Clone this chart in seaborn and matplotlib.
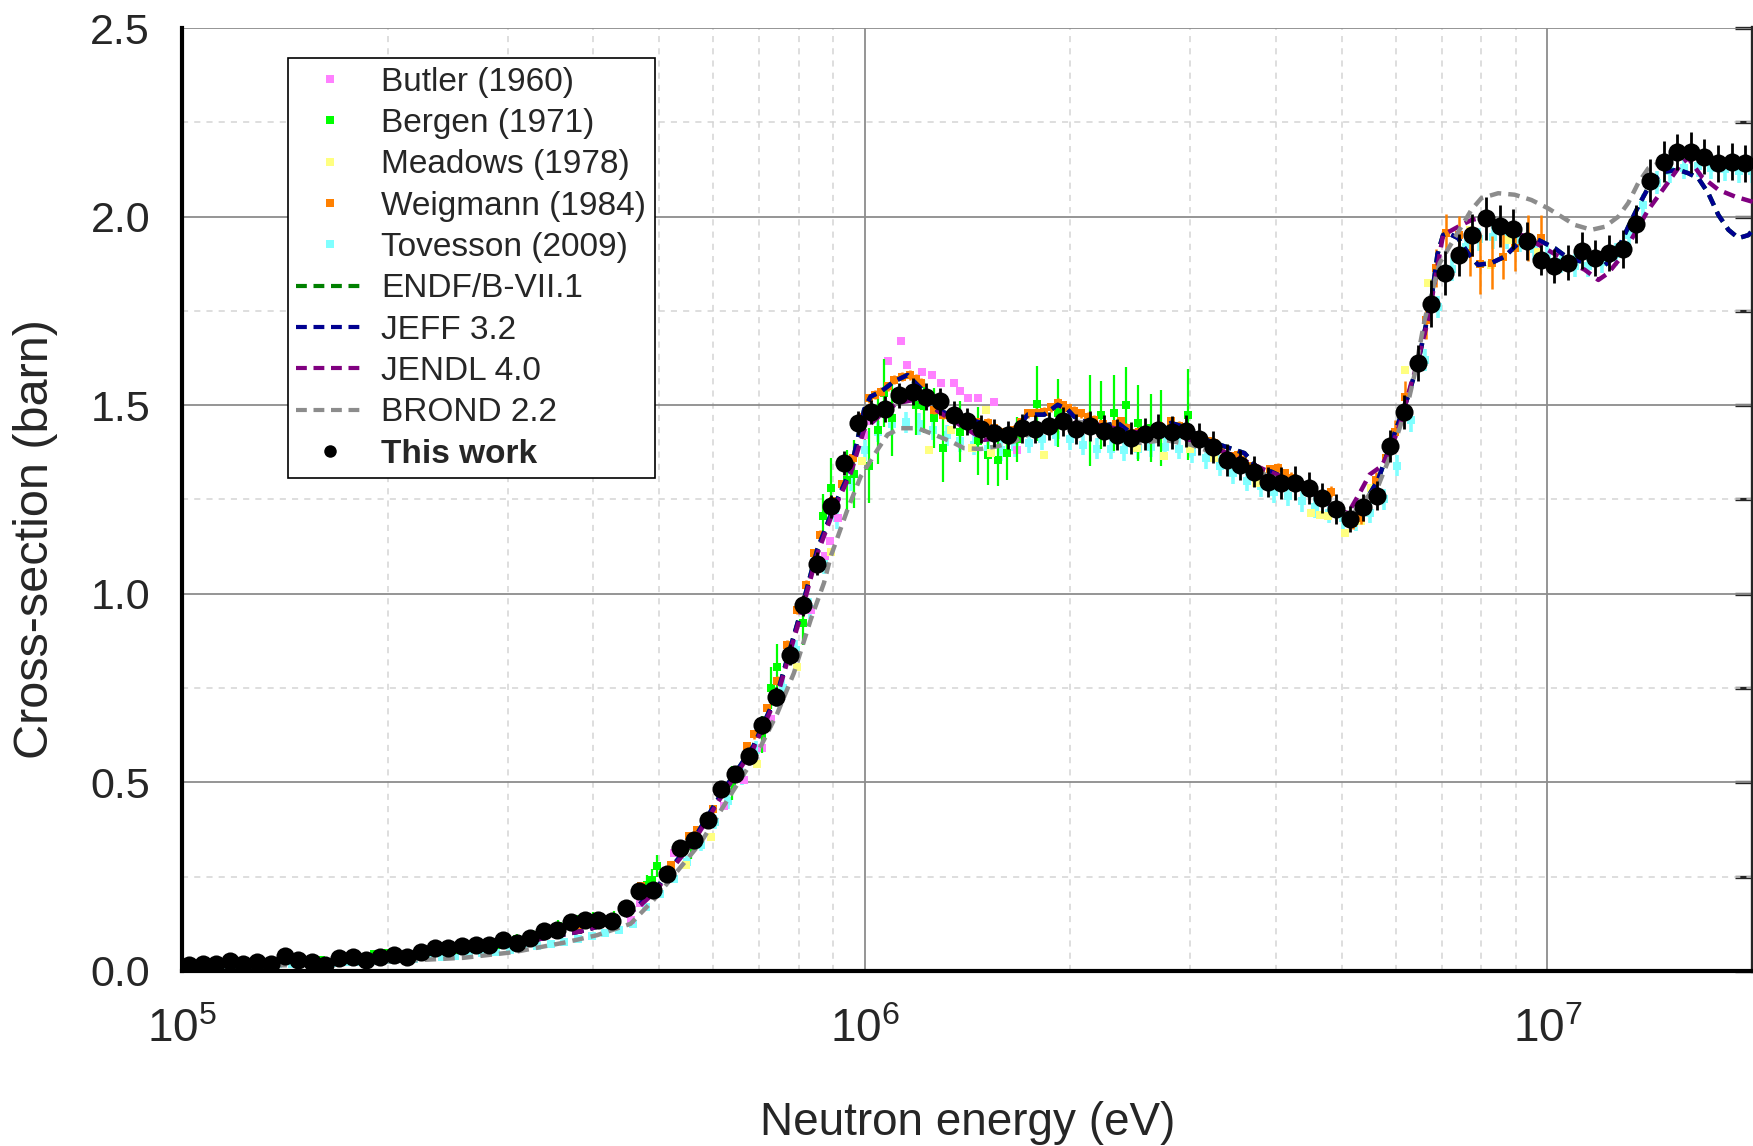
import numpy as np
import matplotlib
matplotlib.use("Agg")
import matplotlib.pyplot as plt
import seaborn as sns
from matplotlib.lines import Line2D
from matplotlib.ticker import LogLocator, MultipleLocator, FormatStrFormatter, NullFormatter

# ---------------- data (energies in keV, cross-sections in barn) ----------------
# This work
work_e = [102.3, 107.2, 112.2, 117.5, 123.0, 128.8, 134.9, 141.3, 147.9, 154.9,
          162.2, 169.8, 177.8, 186.2, 195.0, 204.2, 213.8, 223.9, 234.4, 245.5,
          257.0, 269.2, 281.8, 295.1, 309.0, 323.6, 338.8, 354.8, 371.5, 389.0,
          407.4, 426.6, 446.7, 467.7, 489.8, 512.9, 537.0, 562.3, 588.8, 616.6,
          645.7, 676.1, 707.9, 741.3, 776.2, 812.8, 851.1, 891.3, 933.3, 977.2,
          1023, 1072, 1122, 1175, 1230, 1288, 1349, 1413, 1479, 1549,
          1622, 1698, 1778, 1862, 1950, 2042, 2138, 2239, 2344, 2455,
          2570, 2692, 2818, 2951, 3090, 3236, 3388, 3548, 3715, 3890,
          4074, 4266, 4467, 4677, 4898, 5129, 5370, 5623, 5888, 6166,
          6457, 6761, 7079, 7413, 7762, 8128, 8511, 8913, 9333, 9772,
          10233, 10715, 11220, 11749, 12303, 12882, 13490, 14125, 14791, 15488,
          16218, 16982, 17783, 18621, 19498]
work_sigma = [0.015, 0.019, 0.019, 0.026, 0.019, 0.023, 0.019, 0.039, 0.030, 0.023,
              0.017, 0.035, 0.037, 0.028, 0.037, 0.042, 0.037, 0.051, 0.061, 0.061,
              0.066, 0.070, 0.070, 0.083, 0.075, 0.088, 0.105, 0.110, 0.129, 0.134,
              0.134, 0.132, 0.166, 0.211, 0.214, 0.256, 0.326, 0.348, 0.400, 0.483,
              0.523, 0.569, 0.653, 0.727, 0.839, 0.969, 1.080, 1.232, 1.347, 1.453,
              1.482, 1.490, 1.526, 1.536, 1.523, 1.510, 1.475, 1.457, 1.437, 1.426,
              1.422, 1.439, 1.437, 1.445, 1.457, 1.437, 1.444, 1.432, 1.422, 1.413,
              1.424, 1.435, 1.428, 1.432, 1.411, 1.389, 1.355, 1.342, 1.324, 1.297,
              1.294, 1.294, 1.280, 1.255, 1.225, 1.198, 1.229, 1.260, 1.391, 1.481,
              1.611, 1.769, 1.850, 1.898, 1.952, 1.996, 1.975, 1.967, 1.936, 1.885,
              1.869, 1.878, 1.909, 1.890, 1.903, 1.914, 1.981, 2.095, 2.146, 2.172,
              2.170, 2.159, 2.141, 2.146, 2.141]
work_err = [0.006, 0.006, 0.006, 0.006, 0.006, 0.006, 0.006, 0.006, 0.006, 0.006,
            0.006, 0.007, 0.007, 0.007, 0.008, 0.008, 0.008, 0.008, 0.009, 0.009,
            0.009, 0.010, 0.010, 0.010, 0.011, 0.011, 0.012, 0.012, 0.013, 0.013,
            0.013, 0.013, 0.014, 0.015, 0.015, 0.016, 0.017, 0.018, 0.019, 0.020,
            0.021, 0.022, 0.024, 0.025, 0.027, 0.028, 0.030, 0.030, 0.032, 0.032,
            0.033, 0.034, 0.034, 0.035, 0.035, 0.036, 0.036, 0.036, 0.037, 0.037,
            0.037, 0.038, 0.038, 0.038, 0.039, 0.040, 0.040, 0.041, 0.041, 0.042,
            0.042, 0.042, 0.043, 0.043, 0.043, 0.042, 0.042, 0.040, 0.040, 0.040,
            0.042, 0.045, 0.043, 0.040, 0.040, 0.035, 0.035, 0.038, 0.042, 0.045,
            0.048, 0.062, 0.058, 0.055, 0.056, 0.057, 0.055, 0.053, 0.050, 0.040,
            0.044, 0.046, 0.049, 0.048, 0.048, 0.050, 0.050, 0.057, 0.055, 0.048,
            0.055, 0.047, 0.050, 0.050, 0.048]

# Tovesson (2009)
tov_e = [100, 105, 110, 115, 120, 126, 132, 138, 145, 151,
         158, 166, 174, 182, 191, 200, 209, 219, 229, 240,
         251, 263, 275, 288, 302, 316, 331, 347, 363, 380,
         398, 417, 437, 457, 479, 501, 525, 550, 575, 603,
         631, 661, 692, 724, 759, 794, 832, 871, 912, 955,
         1000, 1047, 1096, 1148, 1202, 1259, 1318, 1380, 1445, 1514,
         1585, 1660, 1738, 1820, 1905, 1995, 2089, 2188, 2291, 2399,
         2512, 2630, 2754, 2884, 3020, 3162, 3311, 3467, 3631, 3802,
         3981, 4169, 4365, 4571, 4786, 5012, 5248, 5495, 5754, 6026,
         6310, 6607, 6918, 7244, 7586, 7943, 8318, 8710, 9120, 9550,
         10000, 10471, 10965, 11482, 12023, 12589, 13183, 13804, 14454, 15136,
         15849, 16596, 17378, 18197, 19055, 19953]
tov_sigma = [0.012, 0.013, 0.014, 0.015, 0.015, 0.016, 0.017, 0.018, 0.019, 0.020,
             0.021, 0.022, 0.024, 0.025, 0.027, 0.029, 0.031, 0.033, 0.036, 0.038,
             0.041, 0.044, 0.047, 0.051, 0.055, 0.060, 0.065, 0.071, 0.078, 0.086,
             0.094, 0.102, 0.110, 0.125, 0.170, 0.205, 0.245, 0.290, 0.335, 0.395,
             0.450, 0.515, 0.585, 0.660, 0.750, 0.850, 0.960, 1.080, 1.200, 1.300,
             1.380, 1.430, 1.450, 1.455, 1.450, 1.435, 1.420, 1.405, 1.395, 1.385,
             1.380, 1.390, 1.400, 1.410, 1.420, 1.410, 1.395, 1.385, 1.385, 1.380,
             1.385, 1.390, 1.390, 1.385, 1.375, 1.360, 1.340, 1.320, 1.300, 1.285,
             1.270, 1.260, 1.245, 1.230, 1.215, 1.200, 1.195, 1.215, 1.250, 1.340,
             1.460, 1.620, 1.760, 1.860, 1.920, 1.940, 1.945, 1.945, 1.935, 1.915,
             1.895, 1.880, 1.870, 1.870, 1.880, 1.900, 1.950, 2.030, 2.090, 2.120,
             2.130, 2.135, 2.130, 2.125, 2.120, 2.120]
tov_err = [0.004, 0.004, 0.004, 0.004, 0.004, 0.004, 0.004, 0.004, 0.004, 0.004,
           0.004, 0.004, 0.004, 0.004, 0.004, 0.004, 0.004, 0.004, 0.004, 0.004,
           0.004, 0.004, 0.004, 0.004, 0.004, 0.004, 0.004, 0.004, 0.004, 0.004,
           0.005, 0.005, 0.006, 0.007, 0.009, 0.010, 0.012, 0.014, 0.016, 0.018,
           0.020, 0.022, 0.024, 0.025, 0.026, 0.027, 0.028, 0.028, 0.028, 0.028,
           0.028, 0.028, 0.028, 0.028, 0.028, 0.028, 0.028, 0.028, 0.028, 0.028,
           0.028, 0.028, 0.028, 0.028, 0.028, 0.028, 0.028, 0.028, 0.028, 0.028,
           0.028, 0.028, 0.028, 0.028, 0.028, 0.028, 0.028, 0.028, 0.028, 0.028,
           0.028, 0.028, 0.028, 0.028, 0.028, 0.028, 0.028, 0.028, 0.028, 0.028,
           0.030, 0.030, 0.030, 0.030, 0.030, 0.030, 0.030, 0.030, 0.030, 0.030,
           0.030, 0.030, 0.030, 0.030, 0.030, 0.030, 0.030, 0.030, 0.030, 0.030,
           0.030, 0.030, 0.030, 0.030, 0.030, 0.030]

# Butler (1960)
butler_e = [454, 468, 525, 622, 665, 706, 730, 833, 874, 888, 915, 998, 1008,
            1081, 1129, 1155, 1214, 1253, 1292, 1350, 1381, 1418, 1464, 1548, 1669]
butler_sigma = [0.136, 0.180, 0.313, 0.437, 0.507, 0.590, 0.668, 0.958, 1.099, 1.139,
                1.201, 1.420, 1.457, 1.618, 1.669, 1.607, 1.589, 1.579, 1.560, 1.558,
                1.538, 1.519, 1.519, 1.508, 1.380]

# Bergen (1971)
bergen_e = [111, 120, 130, 146, 160, 175, 191, 200, 214, 230, 250, 270, 290, 310, 327,
            356, 380, 400, 430, 480, 488, 496, 557, 640, 708, 728, 745, 813,
            870, 893, 941, 964, 1015, 1045, 1068, 1095, 1187, 1222, 1264, 1302,
            1378, 1466, 1516, 1566, 1618, 1672, 1790, 1918, 2140, 2220, 2314, 2410,
            2514, 2624, 2720, 2970]
bergen_sigma = [0.015, 0.018, 0.020, 0.028, 0.030, 0.035, 0.046, 0.048, 0.044, 0.050,
                0.055, 0.065, 0.070, 0.085, 0.095, 0.120, 0.132, 0.140, 0.140, 0.229,
                0.242, 0.278, 0.331, 0.499, 0.627, 0.750, 0.806, 0.923,
                1.205, 1.280, 1.302, 1.318, 1.340, 1.435, 1.532, 1.466, 1.501, 1.497,
                1.466, 1.386, 1.430, 1.404, 1.369, 1.355, 1.373, 1.410, 1.504, 1.479,
                1.460, 1.475, 1.479, 1.501, 1.453, 1.439, 1.440, 1.475]
bergen_err = [0.006, 0.006, 0.006, 0.007, 0.007, 0.008, 0.008, 0.008, 0.008, 0.009,
              0.010, 0.010, 0.011, 0.012, 0.013, 0.015, 0.016, 0.017, 0.018, 0.025,
              0.028, 0.030, 0.035, 0.045, 0.050, 0.055, 0.060, 0.060,
              0.060, 0.080, 0.080, 0.090, 0.100, 0.090, 0.090, 0.100, 0.080, 0.070,
              0.080, 0.090, 0.080, 0.090, 0.080, 0.070, 0.070, 0.060, 0.100, 0.090,
              0.120, 0.090, 0.100, 0.100, 0.100, 0.090, 0.100, 0.120]

# Meadows (1978)
meadows_e = [548, 595, 696, 795, 892, 990, 1242, 1337, 1434, 1504, 1533, 1832, 2505,
             2748, 2999, 3252, 3741, 4497, 4636, 4766, 5044, 5338, 5520, 6176, 6686,
             7396, 7692, 8278, 8759, 9692]
meadows_sigma = [0.280, 0.355, 0.549, 0.806, 1.110, 1.353, 1.382, 1.433, 1.386, 1.488,
                 1.373, 1.369, 1.386, 1.366, 1.384, 1.360, 1.295, 1.214, 1.210, 1.207,
                 1.161, 1.192, 1.280, 1.594, 1.823, 1.907, 1.965, 1.872, 1.938, 1.907]

# Weigmann (1984)
weig_e = [327, 380, 424, 470, 520, 552, 568, 600, 640, 672, 688, 719, 745, 770, 795,
          821, 843, 860, 900, 927, 960, 990, 1015, 1056, 1104, 1165, 1210, 1264, 1337,
          1418, 1514, 1580, 1656, 1733, 1832, 1917, 1983, 2073, 2167, 2292, 2373, 2455,
          2597, 2810, 2972, 3109, 3252, 3400, 3520, 3643, 3807, 4027, 4216, 4480, 4820,
          5190, 5338, 5617, 5810, 5972, 6176, 6630, 6870, 7110, 7410, 7690, 7960, 8280,
          8620, 8950, 9370, 9800,
          1035, 1080, 1135, 1190, 1237, 1300, 1377, 1466, 1547, 1618, 1694, 1782, 1874,
          1950, 2028, 2120, 2230, 2333, 2414, 2526, 2700, 2890, 3040, 3180, 3326, 3460,
          3580, 3725, 3917, 4120]
weig_sigma = [0.083, 0.110, 0.132, 0.225, 0.280, 0.357, 0.375, 0.430, 0.520, 0.596,
              0.627, 0.697, 0.770, 0.865, 0.958, 1.024, 1.108, 1.157, 1.245, 1.290,
              1.360, 1.470, 1.519, 1.536, 1.567, 1.580, 1.560, 1.488, 1.466, 1.457,
              1.453, 1.430, 1.435, 1.479, 1.483, 1.506, 1.492, 1.479, 1.461, 1.440,
              1.457, 1.426, 1.430, 1.457, 1.430, 1.413, 1.400, 1.364, 1.369, 1.338,
              1.324, 1.333, 1.307, 1.271, 1.271, 1.188, 1.201, 1.302, 1.360, 1.430,
              1.523, 1.726, 1.863, 1.956, 1.951, 1.903, 1.875, 1.878, 1.894, 1.916,
              1.943, 1.943,
              1.528, 1.550, 1.575, 1.570, 1.520, 1.475, 1.460, 1.455, 1.440, 1.430,
              1.455, 1.480, 1.495, 1.500, 1.485, 1.470, 1.450, 1.450, 1.440, 1.430,
              1.445, 1.445, 1.420, 1.405, 1.385, 1.365, 1.355, 1.330, 1.330, 1.320]
weig_err = [0.008, 0.008, 0.008, 0.010, 0.010, 0.010, 0.010, 0.010, 0.012, 0.012,
            0.012, 0.012, 0.012, 0.012, 0.012, 0.012, 0.012, 0.012, 0.012, 0.012,
            0.012, 0.012, 0.012, 0.012, 0.012, 0.012, 0.012, 0.012, 0.012, 0.012,
            0.012, 0.012, 0.012, 0.012, 0.012, 0.012, 0.012, 0.012, 0.012, 0.012,
            0.012, 0.012, 0.012, 0.012, 0.012, 0.012, 0.012, 0.012, 0.012, 0.012,
            0.015, 0.015, 0.015, 0.015, 0.015, 0.015, 0.015, 0.020, 0.025, 0.030,
            0.040, 0.050, 0.050, 0.050, 0.050, 0.060, 0.080, 0.070, 0.060, 0.060,
            0.060, 0.060,
            0.012, 0.012, 0.012, 0.012, 0.012, 0.012, 0.012, 0.012, 0.012, 0.012,
            0.012, 0.012, 0.012, 0.012, 0.012, 0.012, 0.012, 0.012, 0.012, 0.012,
            0.012, 0.012, 0.012, 0.012, 0.012, 0.012, 0.012, 0.012, 0.012, 0.012]

# Evaluations
jeff_e = [100, 130, 170.5, 220, 273.5, 330, 383.4, 420, 448.7, 470, 496.6, 513, 560,
          618, 687, 745, 805, 852, 902, 954, 998, 1020, 1056, 1104, 1155, 1208, 1278,
          1352, 1430, 1514, 1601, 1656, 1733, 1832, 1917, 1983, 2025, 2145, 2218, 2348,
          2455, 2597, 2810, 2972, 3109, 3252, 3479, 3599, 3765, 3938, 4119, 4309, 4508,
          4742, 4960, 5160, 5428, 5647, 5972, 6247, 6461, 6759, 6900, 7031, 7151, 7396,
          7650, 7912, 8278, 8658, 9058, 9370, 9800, 10250, 10720, 11210, 11730, 12070,
          12550, 13130, 13660, 14210, 14860, 15540, 16080, 16630, 17200, 17800, 18410,
          19040, 19700, 20100]
jeff_sigma = [0.013, 0.019, 0.030, 0.045, 0.062, 0.083, 0.105, 0.125, 0.150, 0.180,
              0.220, 0.260, 0.345, 0.473, 0.596, 0.737, 0.949, 1.117, 1.232, 1.329,
              1.488, 1.523, 1.536, 1.563, 1.580, 1.545, 1.488, 1.470, 1.461, 1.448,
              1.422, 1.430, 1.475, 1.475, 1.501, 1.488, 1.470, 1.448, 1.444, 1.453,
              1.426, 1.430, 1.453, 1.439, 1.413, 1.400, 1.382, 1.373, 1.333, 1.324,
              1.307, 1.285, 1.267, 1.262, 1.227, 1.196, 1.249, 1.302, 1.426, 1.523,
              1.612, 1.780, 1.900, 1.951, 1.956, 1.943, 1.903, 1.872, 1.877, 1.894,
              1.929, 1.951, 1.934, 1.916, 1.890, 1.881, 1.881, 1.868, 1.894, 1.973,
              2.036, 2.093, 2.119, 2.124, 2.115, 2.102, 2.062, 2.004, 1.965, 1.943,
              1.951, 1.970]
# ENDF/B-VII.1 coincides with JEFF 3.2 over the whole range (hidden underneath)
endf_e = jeff_e
endf_sigma = jeff_sigma

jendl_e = [100, 130, 170.5, 220, 273.5, 330, 383.4, 420, 448.7, 470, 496.6, 513, 560,
           618, 687, 745, 805, 852, 902, 954, 998, 1056, 1117, 1181, 1242, 1292, 1352,
           1430, 1496, 1565, 1656, 1751, 1853, 1957, 2073, 2194, 2321, 2455, 2597, 2748,
           2906, 3109, 3441, 3851, 4074, 4611, 4904, 5105, 5308, 5489, 5710, 5906, 6108,
           6318, 6385, 6686, 6916, 7031, 7396, 7737, 8185, 8658, 9264, 9909, 10600, 11340,
           11870, 12270, 12840, 13430, 14050, 14860, 15720, 16080, 16820, 17800, 18830,
           19910, 20100]
jendl_sigma = [0.013, 0.019, 0.030, 0.045, 0.062, 0.083, 0.105, 0.125, 0.148, 0.175,
               0.215, 0.255, 0.340, 0.465, 0.590, 0.730, 0.940, 1.105, 1.225, 1.320,
               1.435, 1.475, 1.506, 1.514, 1.501, 1.479, 1.457, 1.430, 1.408, 1.413,
               1.422, 1.435, 1.448, 1.457, 1.453, 1.448, 1.439, 1.430, 1.426, 1.422,
               1.413, 1.400, 1.369, 1.329, 1.311, 1.258, 1.223, 1.214, 1.267, 1.316,
               1.338, 1.386, 1.461, 1.559, 1.585, 1.726, 1.877, 1.951, 1.973, 1.991,
               2.000, 1.973, 1.947, 1.916, 1.885, 1.859, 1.832, 1.850, 1.894, 1.956,
               2.018, 2.079, 2.141, 2.155, 2.106, 2.071, 2.053, 2.040, 2.038]

brond_e = [100, 150, 206.4, 258.5, 306, 362.4, 405.5, 453.8, 491, 575, 643.3, 696.3,
           745, 787.5, 833.3, 871.6, 891.7, 943.3, 986.5, 1044, 1080, 1129, 1195, 1264,
           1337, 1398, 1480, 1565, 1656, 1771, 1873, 1983, 2097, 2218, 2428, 2540, 2748,
           3006, 3252, 3520, 3807, 4611, 5044, 5160, 5338, 5647, 5906, 6247, 6385, 6607,
           6952, 7190, 7478, 7737, 8002, 8469, 8954, 9474, 10020, 10480, 10960, 11600,
           12130, 12700, 13130, 13580, 14050, 14860, 16000, 18000, 20100]
brond_sigma = [0.010, 0.016, 0.026, 0.035, 0.050, 0.075, 0.095, 0.125, 0.189, 0.340,
               0.481, 0.578, 0.684, 0.790, 0.931, 1.029, 1.099, 1.223, 1.311, 1.382,
               1.422, 1.439, 1.439, 1.422, 1.404, 1.386, 1.384, 1.391, 1.404, 1.430,
               1.453, 1.461, 1.453, 1.435, 1.404, 1.400, 1.408, 1.395, 1.373, 1.342,
               1.320, 1.267, 1.214, 1.205, 1.241, 1.285, 1.373, 1.506, 1.580, 1.726,
               1.877, 1.921, 1.973, 2.018, 2.049, 2.062, 2.058, 2.044, 2.022, 2.000,
               1.978, 1.965, 1.973, 2.000, 2.036, 2.089, 2.128, 2.150, 2.160, 2.150,
               2.140]

# ---------------- style ----------------
sns.set_style("white")
plt.rcParams["font.family"] = ["Liberation Sans", "DejaVu Sans"]
plt.rcParams["mathtext.fontset"] = "custom"
plt.rcParams["mathtext.rm"] = "Liberation Sans"
plt.rcParams["mathtext.it"] = "Liberation Sans:italic"
plt.rcParams["mathtext.bf"] = "Liberation Sans:bold"
plt.rcParams["mathtext.default"] = "regular"

c_butler = "#FF80FF"
c_bergen = "#00FF00"
c_meadows = "#FFFF80"
c_weig = "#FF8000"
c_tov = "#80FFFF"
c_endf = "#008000"
c_jeff = "#000090"
c_jendl = "#800080"
c_brond = "#8C8C8C"
dash = (0, (2.6, 1.6))

fig = plt.figure(figsize=(17.53, 11.46), dpi=100)
ax = fig.add_axes([182 / 1753, 1 - 971 / 1146, 1 - 182 / 1753, (971 - 28) / 1146])


def kev(x):
    return np.array(x) * 1e3


# experimental data
ax.errorbar(kev(tov_e), tov_sigma, yerr=tov_err, fmt="none", ecolor=c_tov, elinewidth=2.6, zorder=2)
sns.scatterplot(x=kev(tov_e), y=tov_sigma, marker="s", color=c_tov, s=40, linewidth=0, ax=ax, zorder=2)

sns.scatterplot(x=kev(butler_e), y=butler_sigma, marker="s", color=c_butler, s=34, linewidth=0, ax=ax, zorder=3)

ax.errorbar(kev(bergen_e), bergen_sigma, yerr=bergen_err, fmt="none", ecolor=c_bergen, elinewidth=1.6, zorder=3)
sns.scatterplot(x=kev(bergen_e), y=bergen_sigma, marker="s", color=c_bergen, s=34, linewidth=0, ax=ax, zorder=3)

sns.scatterplot(x=kev(meadows_e), y=meadows_sigma, marker="s", color=c_meadows, s=34, linewidth=0, ax=ax, zorder=3)

ax.errorbar(kev(weig_e), weig_sigma, yerr=weig_err, fmt="none", ecolor=c_weig, elinewidth=1.8, zorder=3)
sns.scatterplot(x=kev(weig_e), y=weig_sigma, marker="s", color=c_weig, s=40, linewidth=0, ax=ax, zorder=3)

# evaluations
for e, s, c in [(endf_e, endf_sigma, c_endf), (jeff_e, jeff_sigma, c_jeff),
                (jendl_e, jendl_sigma, c_jendl), (brond_e, brond_sigma, c_brond)]:
    sns.lineplot(x=kev(e), y=s, color=c, lw=3.2, linestyle=dash, ax=ax, zorder=4, sort=False)

# this work
ax.errorbar(kev(work_e), work_sigma, yerr=work_err, fmt="none", ecolor="black", elinewidth=2, zorder=5)
sns.scatterplot(x=kev(work_e), y=work_sigma, marker="o", color="black", s=170, linewidth=0, ax=ax, zorder=6)

# ---------------- axes ----------------
ax.set_xscale("log")
ax.set_xlim(1e5, 2e7)
ax.set_ylim(0, 2.5)
ax.xaxis.set_major_locator(LogLocator(base=10, numticks=10))
ax.xaxis.set_minor_locator(LogLocator(base=10, subs=np.arange(2, 10), numticks=20))
ax.xaxis.set_minor_formatter(NullFormatter())
ax.yaxis.set_major_locator(MultipleLocator(0.5))
ax.yaxis.set_minor_locator(MultipleLocator(0.25))
ax.yaxis.set_major_formatter(FormatStrFormatter("%.1f"))

ax.set_axisbelow(True)
ax.grid(which="major", color="#8c8c8c", lw=1.3, ls="-")
ax.grid(which="minor", color="#d4d4d4", lw=1.1, ls=(0, (4, 4)))

for side in ["left", "bottom"]:
    ax.spines[side].set_linewidth(3)
    ax.spines[side].set_color("black")
ax.spines["top"].set_visible(False)
ax.spines["right"].set_linewidth(3)

ax.tick_params(axis="both", which="major", labelsize=31, width=2.4, length=13, direction="out", color="black")
ax.tick_params(axis="both", which="minor", width=2.0, length=7.5, direction="out", color="black")
ax.tick_params(axis="x", which="major", labelsize=33, pad=14)
ax.tick_params(axis="y", which="major", pad=10)

sec = ax.secondary_yaxis("right")
sec.yaxis.set_major_locator(MultipleLocator(0.5))
sec.yaxis.set_minor_locator(MultipleLocator(0.25))
sec.tick_params(which="both", direction="in", length=13, width=2.4, labelright=False)
sec.spines["right"].set_linewidth(3)

ax.set_xlabel("Neutron energy (eV)", fontsize=33)
ax.set_ylabel("Cross-section (barn)", fontsize=35)
ax.xaxis.set_label_coords(0.5, -0.138)
ax.yaxis.set_label_coords(-0.079, 0.458)

# ---------------- legend ----------------
handles = [
    Line2D([], [], marker="s", ls="none", color=c_butler, ms=5.5, mew=0),
    Line2D([], [], marker="s", ls="none", color=c_bergen, ms=5.5, mew=0),
    Line2D([], [], marker="s", ls="none", color=c_meadows, ms=5.5, mew=0),
    Line2D([], [], marker="s", ls="none", color=c_weig, ms=5.5, mew=0),
    Line2D([], [], marker="s", ls="none", color=c_tov, ms=5.5, mew=0),
    Line2D([], [], color=c_endf, lw=3, ls=dash),
    Line2D([], [], color=c_jeff, lw=3, ls=dash),
    Line2D([], [], color=c_jendl, lw=3, ls=dash),
    Line2D([], [], color=c_brond, lw=3, ls=dash),
    Line2D([], [], marker="o", ls="none", color="black", ms=9, mew=0),
]
labels = ["Butler (1960)", "Bergen (1971)", "Meadows (1978)", "Weigmann (1984)",
          "Tovesson (2009)", "ENDF/B-VII.1", "JEFF 3.2", "JENDL 4.0", "BROND 2.2", "This work"]
leg = ax.legend(handles, labels, loc="upper left", bbox_to_anchor=(0.0675, 0.968),
                borderaxespad=0, fontsize=24, frameon=True, fancybox=False, framealpha=1,
                edgecolor="black", handlelength=2.0, handletextpad=0.55, labelspacing=0.31,
                borderpad=0.25)
leg.get_frame().set_linewidth(1.2)
leg.get_texts()[-1].set_fontweight("bold")

fig.savefig("out.png", dpi=100)
